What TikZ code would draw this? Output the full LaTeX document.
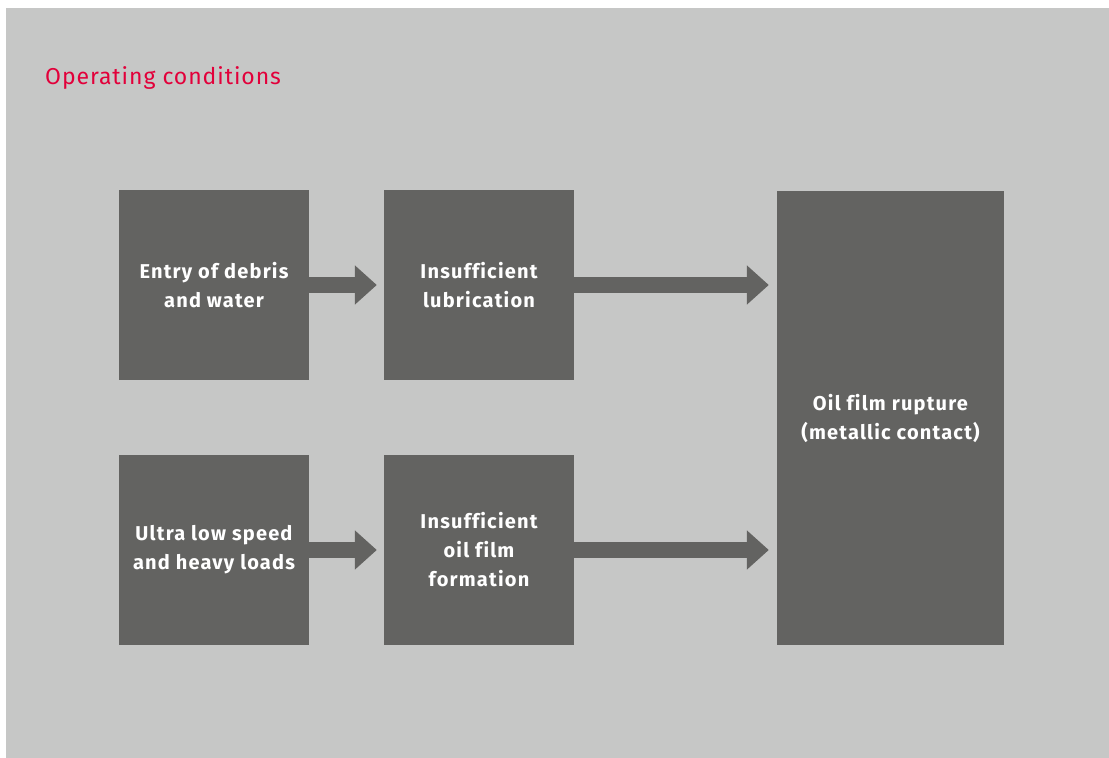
\documentclass[tikz,border=0pt]{standalone}
\usepackage{fontspec}
\setmainfont{Fira Sans}[Ligatures=NoCommon]
\usetikzlibrary{arrows.meta}
\definecolor{bggray}{HTML}{C6C7C6}
\definecolor{boxgray}{HTML}{636361}
\definecolor{titlered}{HTML}{E2003A}
\tikzset{
    causebox/.style={fill=boxgray,text=white,
        font=\fontsize{20}{29}\selectfont\bfseries\addfontfeatures{LetterSpace=6},
        align=center,inner sep=0pt,minimum width=190pt,minimum height=190pt},
    flow/.style={boxgray,line width=16pt,-{Triangle[width=38pt,length=22pt]}}
}
\begin{document}
\begin{tikzpicture}[x=1pt,y=-1pt]
    % background
    \useasboundingbox (0,0) rectangle (1109,758);
    \fill[white] (0,0) rectangle (1109,758);
    \fill[bggray] (6,8) rectangle (1109,758);
    \node[anchor=base west,inner sep=0pt,text=titlered,
        font=\fontsize{23}{27}\selectfont\addfontfeatures{LetterSpace=4}] (title) at (45,84) {Operating conditions};

    % upper row
    \node[causebox] (debris) at (214,285) {Entry of debris\\and water};
    \node[causebox] (lubr) at (479,285) {Insufficient\\lubrication};

    % lower row
    \node[causebox] (speed) at (214,550) {Ultra low speed\\and heavy loads};
    \node[causebox] (film) at (479,550) {Insufficient\\oil film\\formation};

    % result
    \node[causebox,minimum width=227pt,minimum height=454pt] (rupture) at (890.5,418) {Oil film rupture\\(metallic contact)};

    % arrows
    \coordinate (a1) at ([xshift=-7pt]lubr.west);
    \coordinate (a2) at ([xshift=-7pt]film.west);
    \coordinate (a3) at ([xshift=-8pt]rupture.west |- lubr.east);
    \coordinate (a4) at ([xshift=-8pt]rupture.west |- film.east);
    \draw[flow] (debris.east) -- (a1);
    \draw[flow] (speed.east) -- (a2);
    \draw[flow] (lubr.east) -- (a3);
    \draw[flow] (film.east) -- (a4);
\end{tikzpicture}
\end{document}
